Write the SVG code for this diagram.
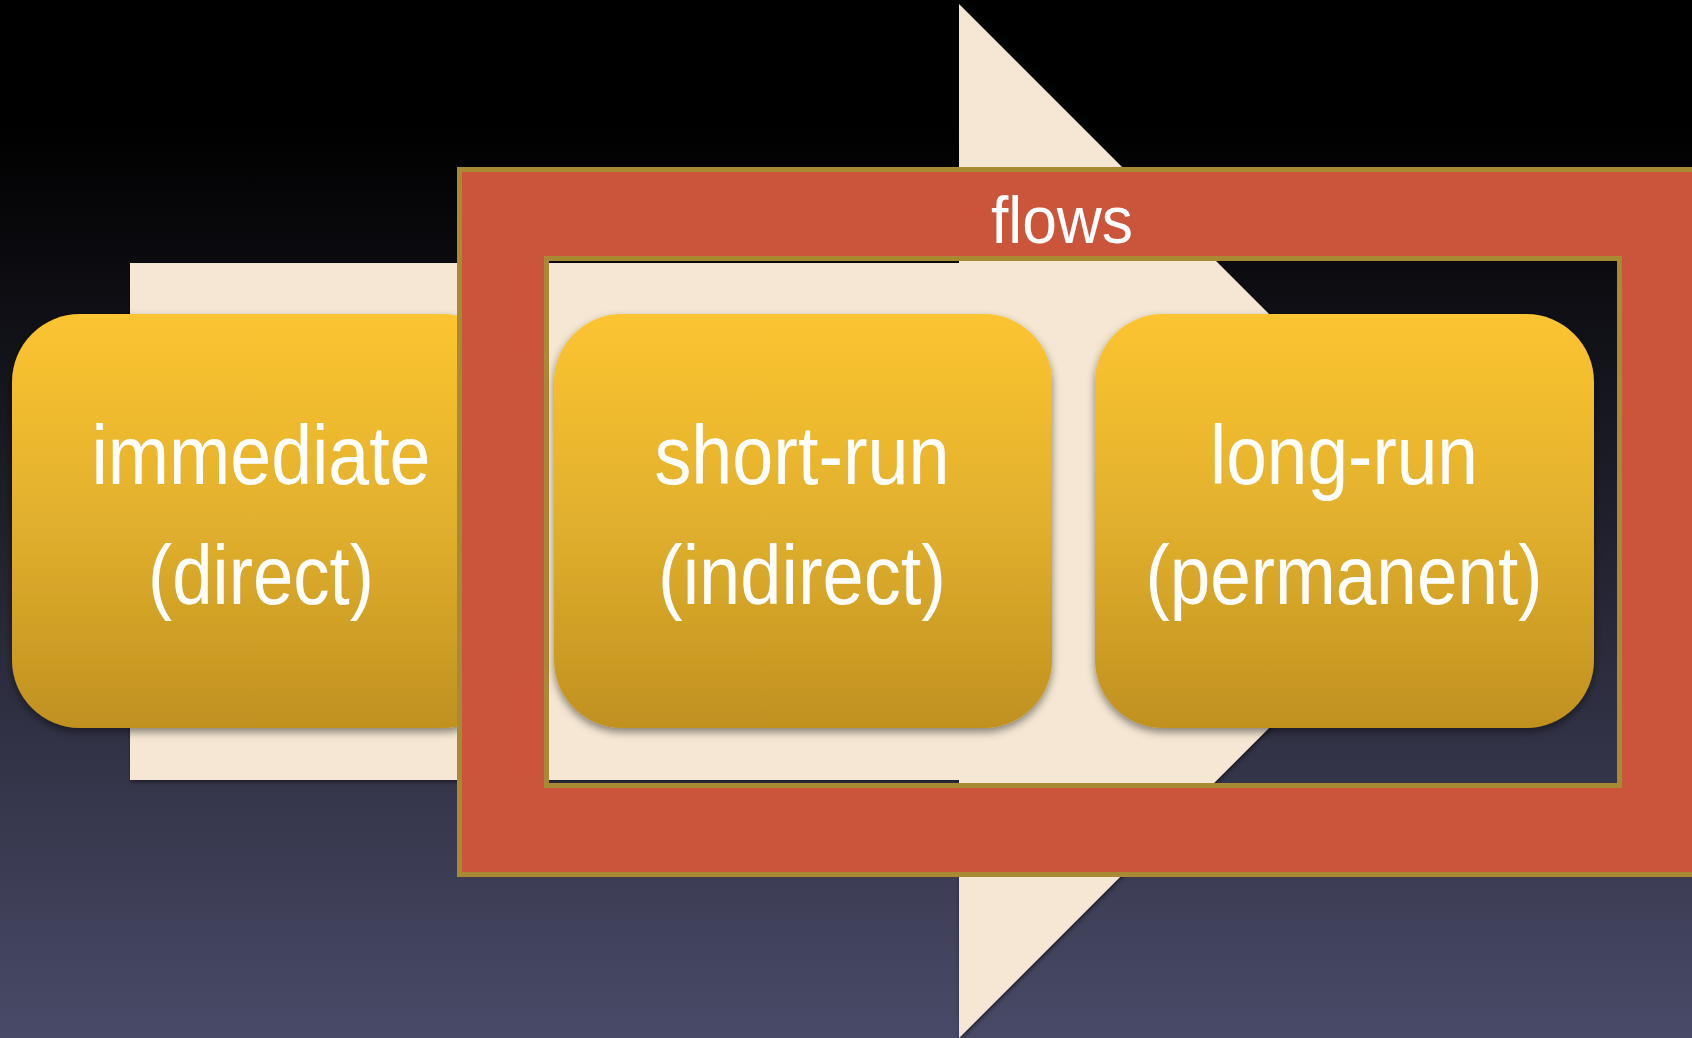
<svg xmlns="http://www.w3.org/2000/svg" width="1692" height="1038" viewBox="0 0 1692 1038">
  <defs>
    <linearGradient id="bg" x1="0" y1="0" x2="0" y2="1038" gradientUnits="userSpaceOnUse">
      <stop offset="0" stop-color="#000000"/>
      <stop offset="0.12" stop-color="#000000"/>
      <stop offset="1" stop-color="#494a67"/>
    </linearGradient>
    <linearGradient id="gold" x1="0" y1="0" x2="0" y2="1">
      <stop offset="0" stop-color="#fcc430"/>
      <stop offset="0.5" stop-color="#e1b02e"/>
      <stop offset="1" stop-color="#c0911f"/>
    </linearGradient>
    <filter id="shadow" x="-10%" y="-10%" width="120%" height="125%">
      <feDropShadow dx="0" dy="4" stdDeviation="4" flood-color="#000" flood-opacity="0.45"/>
    </filter>
    <filter id="ashadow" x="-5%" y="-5%" width="110%" height="110%">
      <feDropShadow dx="1" dy="2" stdDeviation="2" flood-color="#000" flood-opacity="0.5"/>
    </filter>
  </defs>
  <style>
    .box { fill: url(#gold); filter: url(#shadow); }
    .lbl { font-family: "Liberation Sans", Arial, sans-serif; font-size: 84px; fill: #ffffff; text-anchor: middle; }
    .frame { fill: #cb553a; fill-rule: evenodd; stroke: #a88a35; stroke-width: 5; }
  </style>
  <rect x="0" y="0" width="1692" height="1038" fill="url(#bg)"/>

  <g id="connectors">
    <path id="flow-arrow" d="M130,263 H959 V4 L1476,521 L959,1038 V780 H130 Z" fill="#f5e7d3" filter="url(#ashadow)"/>
  </g>

  <g id="immediate">
    <rect class="box" x="12" y="314" width="498" height="414" rx="68" ry="68"/>
    <text class="lbl" x="261" y="484" textLength="339" lengthAdjust="spacingAndGlyphs">immediate</text>
    <text class="lbl" x="261" y="604" textLength="226" lengthAdjust="spacingAndGlyphs">(direct)</text>
  </g>

  <g id="flows">
    <path class="frame" d="M459.5,169.5 H1700 V874.5 H459.5 Z M546.5,258.5 H1619.5 V785.5 H546.5 Z"/>
    <text class="lbl" x="1062" y="243" style="font-size:67px" textLength="142" lengthAdjust="spacingAndGlyphs">flows</text>
  </g>

  <g id="short-run">
    <rect class="box" x="554" y="314" width="498" height="414" rx="68" ry="68"/>
    <text class="lbl" x="802" y="484" textLength="295" lengthAdjust="spacingAndGlyphs">short-run</text>
    <text class="lbl" x="802" y="604" textLength="288" lengthAdjust="spacingAndGlyphs">(indirect)</text>
  </g>

  <g id="long-run">
    <rect class="box" x="1095" y="314" width="499" height="414" rx="68" ry="68"/>
    <text class="lbl" x="1344" y="484" textLength="268" lengthAdjust="spacingAndGlyphs">long-run</text>
    <text class="lbl" x="1344" y="604" textLength="397" lengthAdjust="spacingAndGlyphs">(permanent)</text>
  </g>
</svg>
